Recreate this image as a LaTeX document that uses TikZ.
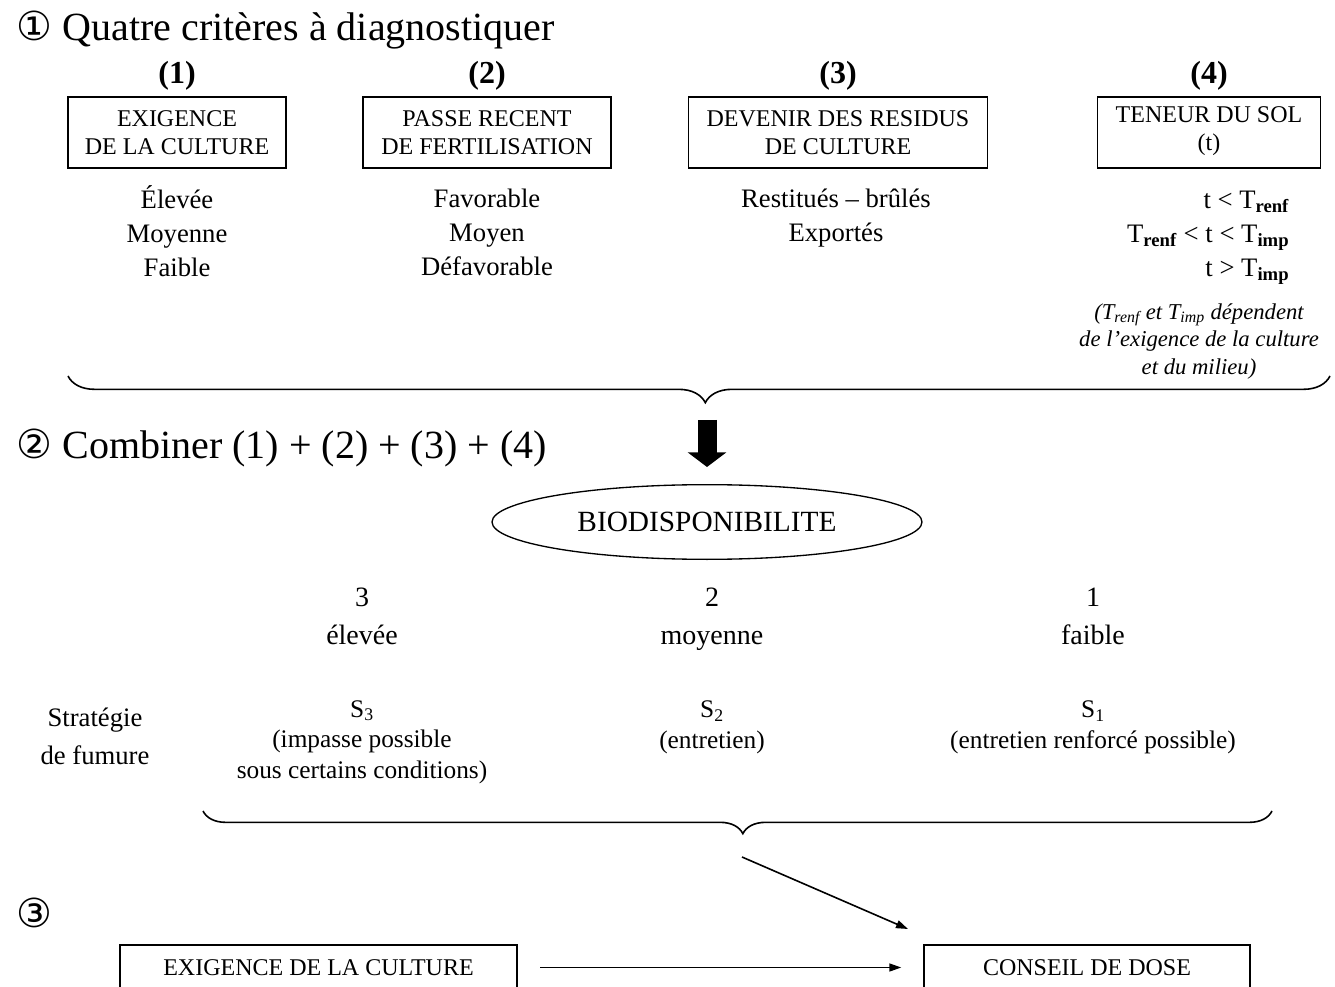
\documentclass[tikz,border=0pt]{standalone}
\usepackage{fontspec}
\setmainfont{Liberation Serif}
\newfontfamily\circfont{DejaVu Sans}
\usetikzlibrary{arrows.meta, positioning, shapes.geometric, decorations.pathreplacing}

\begin{document}
\begin{tikzpicture}[
    x=0.75pt, y=-0.75pt,
    heading/.style={anchor=base west, font=\fontsize{30}{36}\selectfont},
    numero/.style={anchor=base, font=\bfseries\fontsize{24}{28}\selectfont},
    lignes/.style={execute at begin node=\strut, execute at end node=\strut},
    critere/.style={rectangle, draw, line width=1.1pt, minimum height=53.25pt, align=center, font=\fontsize{18}{21}\selectfont},
    valeurs/.style={align=center, lignes, font=\fontsize{20}{25.5}\selectfont},
    note/.style={align=center, lignes, font=\itshape\fontsize{17}{20.6}\selectfont},
    niveau/.style={align=center, lignes, font=\fontsize{21}{29}\selectfont},
    strategie/.style={align=center, lignes, font=\fontsize{19}{23}\selectfont},
    accolade/.style={decorate, decoration={brace, mirror, amplitude=#1, aspect=0.505}, line width=1.2pt},
    fleche/.style={line width=1.2pt, -{Triangle[length=9pt, width=6pt]}},
    conseil/.style={rectangle, draw, line width=1.1pt, minimum height=33.75pt, font=\fontsize{18}{21}\selectfont}
]
\clip (0,0) rectangle (1335,987);

% 1 - quatre criteres
\node[heading] (titre1) at (12,41) {{\circfont ①} Quatre critères à diagnostiquer};
\node[numero] (n1) at (177,84) {(1)};
\node[numero] (n2) at (487,84) {(2)};
\node[numero] (n3) at (838,84) {(3)};
\node[numero] (n4) at (1209,84) {(4)};

\node[critere, minimum width=163.5pt] (exigence) at (177,132.5) {EXIGENCE\\DE LA CULTURE};
\node[critere, minimum width=186pt] (passe) at (487,132.5) {PASSE RECENT\\DE FERTILISATION};
\node[critere, minimum width=224.25pt] (residus) at (838,132.5) {DEVENIR DES RESIDUS\\DE CULTURE};
\node[critere, minimum width=167.25pt] (teneur) at (1209,132.5) {TENEUR DU SOL\\\strut(t)};

\node[valeurs] (v1) at (177,236) {Élevée\\Moyenne\\Faible};
\node[valeurs] (v2) at (487,237) {Favorable\\Moyen\\Défavorable};
\node[valeurs] (v3) at (836,220) {Restitués – brûlés\\Exportés};
\node[valeurs, align=right, anchor=east] (v4) at (1294,239)
  {t < T\textsubscript{\textbf{renf}}\\T\textsubscript{\textbf{renf}} < t < T\textsubscript{\textbf{imp}}\\t > T\textsubscript{\textbf{imp}}};
\node[note] (remarque) at (1199,343)
  {(T\textsubscript{renf} et T\textsubscript{imp} dépendent\\de l’exigence de la culture\\et du milieu)};

\coordinate (acc1g) at (68,376);
\coordinate (acc1d) at (1330,376);
\draw[accolade=20pt] (acc1g) -- (acc1d);
\coordinate (pointe1) at (707,403);

% 2 - combiner
\node[heading] (titre2) at (12,458) {{\circfont ②} Combiner (1) + (2) + (3) + (4)};
\node[ellipse, draw, line width=1pt, inner sep=0pt, minimum width=322.5pt, minimum height=56pt,
      font=\fontsize{22}{26}\selectfont] (bio) at (707,522) {BIODISPONIBILITE};
\draw[line width=14.25pt, -{Triangle[width=28.5pt, length=11pt]}, shorten <=12.75pt, shorten >=12.75pt]
  (pointe1) -- (bio.north);

\node[niveau] (eleve) at (362,622) {3\\élevée};
\node[niveau] (moyen) at (712,622) {2\\moyenne};
\node[niveau] (faible) at (1093,622) {1\\faible};

\node[strategie, font=\fontsize{20}{28.5}\selectfont] (strat) at (95,742) {Stratégie\\de fumure};
\node[strategie] (s3) at (362,744) {S\textsubscript{3}\\(impasse possible\\sous certains conditions)};
\node[strategie] (s2) at (712,729) {S\textsubscript{2}\\(entretien)};
\node[strategie] (s1) at (1093,729) {S\textsubscript{1}\\(entretien renforcé possible)};

\coordinate (acc2g) at (203,811);
\coordinate (acc2d) at (1272,811);
\draw[accolade=17pt] (acc2g) -- (acc2d);

% 3 - conseil
\node[heading, anchor=west] (titre3) at (12,913) {{\circfont ③}};
\node[conseil, minimum width=297.75pt] (exig2) at (318.5,967.5) {EXIGENCE DE LA CULTURE};
\node[conseil, minimum width=244.5pt] (dose) at (1087,967.5) {CONSEIL DE DOSE};

\coordinate (depart) at (742,857);
\coordinate (arrivee) at (908,929);
\draw[fleche] (depart) -- (arrivee);
\draw[fleche, shorten <=17pt, shorten >=16.5pt] (exig2.east) -- (dose.west);

\end{tikzpicture}
\end{document}
